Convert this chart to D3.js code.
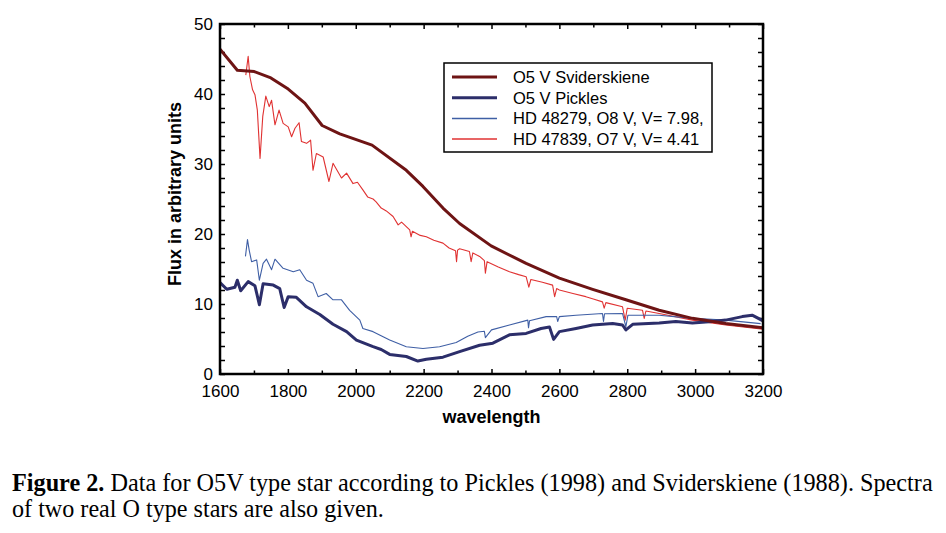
<!DOCTYPE html>
<html>
<head>
<meta charset="utf-8">
<script src="https://cdn.jsdelivr.net/npm/d3@7"></script>
<style>
  body { margin: 0; background: #fff; }
  text { font-family: "Liberation Sans", Arial, sans-serif; }
  .tick text { font-size: 17px; fill: #000; }
  .tick line { stroke: #000; stroke-width: 1.5; }
</style>
</head>
<body>
<div id="chart"></div>
<script>
// O5 V Sviderskiene
var svWave = [1600,1651,1701,1750,1801,1850,1901,1953,2048,2149,2198,2257,2306,2399,2502,2600,2698,2796,2894,2992,3090,3200];
var svFlux = [46.4,43.4,43.2,42.3,40.7,38.7,35.5,34.3,32.7,29.1,26.8,23.7,21.5,18.3,15.8,13.7,12.1,10.6,9.1,7.95,7.2,6.6];

// O5 V Pickles
var pkWave = [1600,1620,1644,1651,1661,1683,1703,1716,1727,1757,1776,1789,1801,1825,1855,1894,1933,1973,2002,2051,2075,2100,2149,2183,2208,2257,2306,2365,2404,2453,2502,2546,2571,2583,2600,2649,2698,2757,2786,2796,2816,2894,2943,2992,3051,3090,3139,3168,3200];
var pkFlux = [13.05,12.1,12.4,13.4,11.9,13.2,12.6,9.9,12.9,12.7,12.2,9.5,11.05,10.95,9.6,8.5,7.1,6.05,4.85,3.9,3.5,2.8,2.5,1.85,2.1,2.4,3.2,4.1,4.4,5.6,5.8,6.5,6.7,4.95,6.05,6.5,7.0,7.2,7.0,6.3,7.1,7.3,7.5,7.3,7.5,7.7,8.2,8.4,7.6];

// HD 48279, O8 V
var hbWave = [1675,1681,1686,1693,1708,1716,1727,1737,1752,1762,1786,1816,1835,1855,1874,1889,1913,1933,1958,1982,2012,2021,2051,2100,2149,2198,2247,2296,2330,2360,2379,2382,2400,2453,2507,2509,2512,2561,2592,2595,2600,2649,2727,2730,2733,2786,2796,2802,2816,2894,2992,3090,3193];
var hbFlux = [16.8,19.2,17.7,16.05,16.3,13.4,15.8,16.4,14.9,16.4,15.1,14.6,14.9,13.4,12.95,11.05,11.5,10.6,10.6,9.1,7.7,6.5,6.05,4.85,3.9,3.65,3.9,4.5,5.4,6.0,6.1,5.2,6.3,7.0,7.7,6.6,7.6,8.2,8.2,7.5,8.2,8.4,8.65,7.5,8.6,8.65,6.75,8.4,8.4,8.4,7.95,7.7,7.2];

// HD 47839, O7 V
var hrWave = [1676,1683,1688,1696,1703,1710,1718,1726,1735,1745,1752,1762,1774,1786,1801,1811,1821,1833,1840,1855,1867,1874,1884,1904,1921,1933,1958,1973,1992,2005,2021,2035,2051,2060,2075,2090,2110,2125,2135,2159,2163,2167,2190,2208,2230,2257,2275,2294,2297,2300,2306,2335,2340,2345,2365,2379,2382,2387,2420,2453,2480,2502,2510,2516,2550,2580,2586,2592,2600,2640,2678,2700,2727,2732,2737,2786,2794,2800,2845,2850,2855,2894,2992,3090,3200];
var hrFlux = [42.7,45.4,42.5,40.6,39.9,37.7,30.8,36.8,39.7,38.2,39.1,35.6,37.7,35.8,35.3,33.9,35.1,35.9,33.2,32.95,33.4,29.1,31.5,31.0,27.5,30.1,28.0,28.7,27.2,27.4,26.3,25.3,25.0,24.6,23.7,23.3,22.5,21.3,21.7,20.6,19.6,20.4,19.8,19.6,19.1,18.7,18.0,17.6,16.05,17.7,17.9,17.5,16.05,17.3,16.8,16.2,14.4,16.05,15.3,14.6,14.2,13.9,12.4,13.5,13.1,12.7,11.05,12.2,12.0,11.5,11.05,10.7,10.3,9.4,10.2,9.6,7.7,9.4,9.1,7.95,9.0,8.65,7.7,7.0,6.4];

var legendLabels = ["O5 V Sviderskiene", "O5 V Pickles", "HD 48279, O8 V, V= 7.98,", "HD 47839, O7 V, V= 4.41"];
var xTicks = [1600,1800,2000,2200,2400,2600,2800,3000,3200];
var yTicks = [0,10,20,30,40,50];

var series = [
  {wave: svWave, flux: svFlux, color: "#6e1414", width: 3},
  {wave: pkWave, flux: pkFlux, color: "#2c2e6a", width: 3},
  {wave: hbWave, flux: hbFlux, color: "#3f5fa5", width: 1.1},
  {wave: hrWave, flux: hrFlux, color: "#e03232", width: 1.1}
];

var margin = {top: 24, right: 183, bottom: 159, left: 220},
    width = 946 - margin.left - margin.right,
    height = 533 - margin.top - margin.bottom;

var svg = d3.select("#chart").append("svg")
    .attr("width", 946)
    .attr("height", 533);

var g = svg.append("g")
    .attr("transform", "translate(" + margin.left + "," + margin.top + ")");

var x = d3.scaleLinear().domain([1600, 3200]).range([0, width]);
var y = d3.scaleLinear().domain([0, 50]).range([height, 0]);

var xMinor = d3.range(1700, 3200, 200);
var yMinor = d3.range(0, 51, 2).filter(function(v) { return v % 10 !== 0; });

function addAxis(axis, tr) {
  var a = g.append("g").attr("transform", tr).call(axis);
  a.select(".domain").remove();
  return a;
}

// bottom / top
addAxis(d3.axisBottom(x).tickValues(xTicks).tickSize(-5).tickPadding(11).tickFormat(d3.format("d")), "translate(0," + height + ")");
addAxis(d3.axisBottom(x).tickValues(xMinor).tickSize(-3.5).tickFormat(""), "translate(0," + height + ")");
addAxis(d3.axisTop(x).tickValues(xTicks).tickSize(-5).tickFormat(""), "translate(0,0)");
addAxis(d3.axisTop(x).tickValues(xMinor).tickSize(-3.5).tickFormat(""), "translate(0,0)");

// left / right
addAxis(d3.axisLeft(y).tickValues(yTicks).tickSize(-5).tickPadding(7).tickFormat(d3.format("d")), "translate(0,0)");
addAxis(d3.axisLeft(y).tickValues(yMinor).tickSize(-5).tickFormat(""), "translate(0,0)");
addAxis(d3.axisRight(y).tickValues(yTicks).tickSize(-5).tickFormat(""), "translate(" + width + ",0)");
addAxis(d3.axisRight(y).tickValues(yMinor).tickSize(-5).tickFormat(""), "translate(" + width + ",0)");

g.append("clipPath").attr("id", "clip")
  .append("rect").attr("width", width).attr("height", height);

var line = d3.line()
    .x(function(d) { return x(d[0]); })
    .y(function(d) { return y(d[1]); });

// draw thin spectra first, then the thick ones on top
[3, 2, 1, 0].forEach(function(i) {
  var s = series[i];
  g.append("path")
      .datum(d3.zip(s.wave, s.flux))
      .attr("clip-path", "url(#clip)")
      .attr("fill", "none")
      .attr("stroke", s.color)
      .attr("stroke-width", s.width)
      .attr("stroke-linejoin", "round")
      .attr("d", line);
});

// frame
g.append("rect")
    .attr("width", width)
    .attr("height", height)
    .attr("fill", "none")
    .attr("stroke", "#000")
    .attr("stroke-width", 2.5);

// axis titles
g.append("text")
    .attr("x", width / 2)
    .attr("y", height + 49)
    .attr("text-anchor", "middle")
    .style("font-size", "18px")
    .style("font-weight", "bold")
    .text("wavelength");

g.append("text")
    .attr("transform", "rotate(-90)")
    .attr("x", -(height / 2) + 5)
    .attr("y", -39)
    .attr("text-anchor", "middle")
    .style("font-size", "18px")
    .style("font-weight", "bold")
    .text("Flux in arbitrary units");

// legend
var lg = g.append("g").attr("transform", "translate(" + (444 - margin.left) + "," + (63 - margin.top) + ")");
lg.append("rect")
    .attr("width", 268)
    .attr("height", 89)
    .attr("fill", "#fff")
    .attr("stroke", "#000")
    .attr("stroke-width", 1.5);

legendLabels.forEach(function(label, i) {
  var yy = 14 + i * 20.7;
  lg.append("line")
      .attr("x1", 8).attr("x2", 53)
      .attr("y1", yy).attr("y2", yy)
      .attr("stroke", series[i].color)
      .attr("stroke-width", i < 2 ? 3 : 1.5);
  lg.append("text")
      .attr("x", 69)
      .attr("y", yy + 6)
      .style("font-size", "16.5px")
      .text(label);
});

// caption: condensed serif, squeezed horizontally to fit
function captionLine(yPos, target, build) {
  var cg = svg.append("g");
  var t = cg.append("text")
      .attr("x", 0).attr("y", 0)
      .style("font-family", "'Liberation Serif', 'Times New Roman', serif")
      .style("font-size", "25px");
  build(t);
  var len = t.node().getComputedTextLength();
  cg.attr("transform", "translate(12," + yPos + ") scale(" + (target / len) + ",1)");
}

captionLine(491, 921, function(t) {
  t.append("tspan").style("font-weight", "bold").text("Figure 2.");
  t.append("tspan").text(" Data for O5V type star according to Pickles (1998) and Sviderskiene (1988). Spectra");
});
captionLine(517, 372, function(t) {
  t.text("of two real O type stars are also given.");
});
</script>
</body>
</html>
